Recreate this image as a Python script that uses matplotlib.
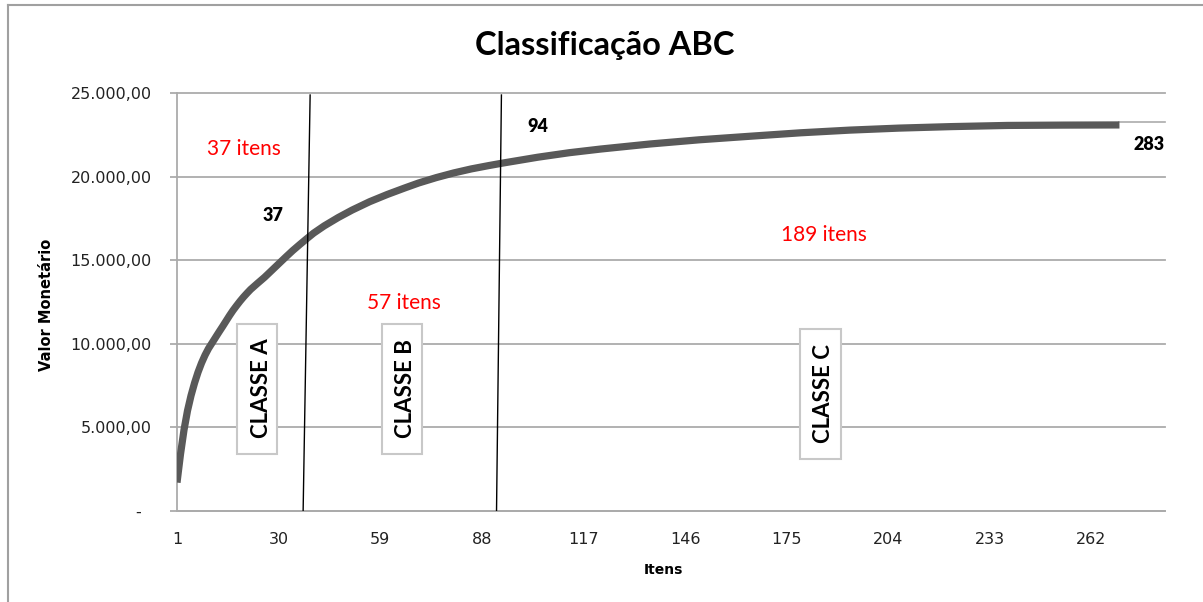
import matplotlib
matplotlib.use("Agg")
import matplotlib.pyplot as plt
from matplotlib.patches import Rectangle
from matplotlib.lines import Line2D

# Cumulative monetary value by item rank (ABC curve)
items = [1, 2, 3, 4, 5, 6, 7, 8, 9, 10, 11, 12, 13, 14, 15, 16, 17, 18, 19, 20,
         21, 22, 24, 26, 28, 30, 32, 34, 36, 38, 40, 43, 47, 51, 56, 61, 66, 70,
         75, 80, 85, 90, 94, 104, 113, 122, 136, 150, 165, 179, 193, 207, 222,
         238, 254, 270]
cum_value = [1700, 3400, 4850, 6000, 6900, 7650, 8300, 8850, 9320, 9720, 10050,
             10380, 10710, 11030, 11360, 11690, 12000, 12280, 12550, 12800,
             13030, 13250, 13620, 13980, 14380, 14780, 15180, 15570, 15930,
             16280, 16620, 17050, 17550, 18000, 18500, 18930, 19320, 19620,
             19940, 20220, 20460, 20660, 20810, 21160, 21430, 21650, 21950,
             22200, 22420, 22620, 22780, 22900, 22990, 23060, 23080, 23090]
tail_value = 23280

n_items = 283
class_names = ["CLASSE A", "CLASSE B", "CLASSE C"]
class_counts = [37, 57, 189]
boundaries = [37, 94, 283]

x_ticks = [1, 30, 59, 88, 117, 146, 175, 204, 233, 262]
y_ticks = [0, 5000, 10000, 15000, 20000, 25000]
y_tick_labels = ["-  ", "5.000,00", "10.000,00", "15.000,00", "20.000,00", "25.000,00"]

GRID = "#ababab"
CURVE = "#595959"
W, H = 1203, 602

fig = plt.figure(figsize=(W / 100, H / 100), dpi=100)
ax = fig.add_axes([177 / W, 91 / H, 988 / W, 418 / H])
ax.set_xlim(1, n_items)
ax.set_ylim(0, 25000)

# grid and axes
ax.set_yticks(y_ticks)
ax.set_yticklabels(y_tick_labels)
ax.set_xticks(x_ticks)
ax.set_xticklabels([str(t) for t in x_ticks])
ax.yaxis.grid(True, color=GRID, lw=1.3, zorder=0)
ax.set_axisbelow(True)
for gl in ax.get_ygridlines():
    gl.set_clip_on(False)
ax.tick_params(axis="y", length=5, width=1.3, color=GRID, pad=13,
               labelsize=11.5, labelcolor="#222222")
ax.tick_params(axis="x", length=0, pad=15, labelsize=11.5, labelcolor="#222222")
for s in ["top", "right"]:
    ax.spines[s].set_visible(False)
for s in ["left", "bottom"]:
    ax.spines[s].set_color(GRID)
    ax.spines[s].set_linewidth(1.3)

# ABC curve
ax.plot(items, cum_value, color=CURVE, lw=5.2, solid_capstyle="butt",
        solid_joinstyle="round", zorder=4)
ax.plot([items[-1], n_items], [tail_value, tail_value], color=GRID, lw=1.2,
        zorder=3, clip_on=False)

# class boundary lines
leans = [(0.0, 2.0), (-1.8, -0.4)]
for b, (d0, d1) in zip(boundaries[:2], leans):
    ax.plot([b + d0, b + d1], [0, 24880], color="black", lw=1.0, zorder=5)

# class boxes with vertical labels
boxes = [(18.0, 29.5, 3410, 11180, 25.0, 7330),
         (59.6, 71.0, 3410, 11180, 66.1, 7330),
         (178.9, 190.5, 3110, 10890, 185.5, 7000)]
for name, (x0, x1, y0, y1, tx, ty) in zip(class_names, boxes):
    ax.add_patch(Rectangle((x0, y0), x1 - x0, y1 - y0, facecolor="white",
                           edgecolor="#c8c8c8", lw=1.5, zorder=3))
    ax.text(tx, ty, name, rotation=90, ha="center", va="center",
            family="Lato", fontweight="bold", fontsize=16, color="black", zorder=6)

# item counts per class
count_pos = [(20.1, 21670), (65.8, 12470), (185.7, 16510)]
for c, (x, y) in zip(class_counts, count_pos):
    ax.text(x, y, f"{c} itens", color="#ff0000", family="Lato", fontsize=15,
            ha="center", va="center", zorder=6)

# boundary labels
bound_pos = [(28.3, 17700), (103.9, 23000), (278.5, 21890)]
for b, (x, y) in zip(boundaries, bound_pos):
    ax.text(x, y, str(b), color="black", family="Lato", fontweight="heavy",
            fontsize=13, ha="center", va="center", zorder=6, clip_on=False)

# titles
fig.text(605 / W, 1 - 55 / H, "Classificação ABC", family="Lato",
         fontweight="bold", fontsize=23.5, ha="center", va="baseline")
fig.text(663 / W, 1 - 570 / H, "Itens", fontweight="bold", fontsize=10,
         ha="center", va="center")
fig.text(47 / W, 1 - 305 / H, "Valor Monetário", fontweight="bold",
         fontsize=10.5, rotation=90, ha="center", va="center")

# outer chart frame
fig.add_artist(Line2D([8 / W, 8 / W], [0, 1 - 5 / H], transform=fig.transFigure,
                      color="#a0a0a0", lw=1.5))
fig.add_artist(Line2D([8 / W, 1], [1 - 5 / H, 1 - 5 / H], transform=fig.transFigure,
                      color="#a0a0a0", lw=1.5))

fig.savefig("out.png", dpi=100)
